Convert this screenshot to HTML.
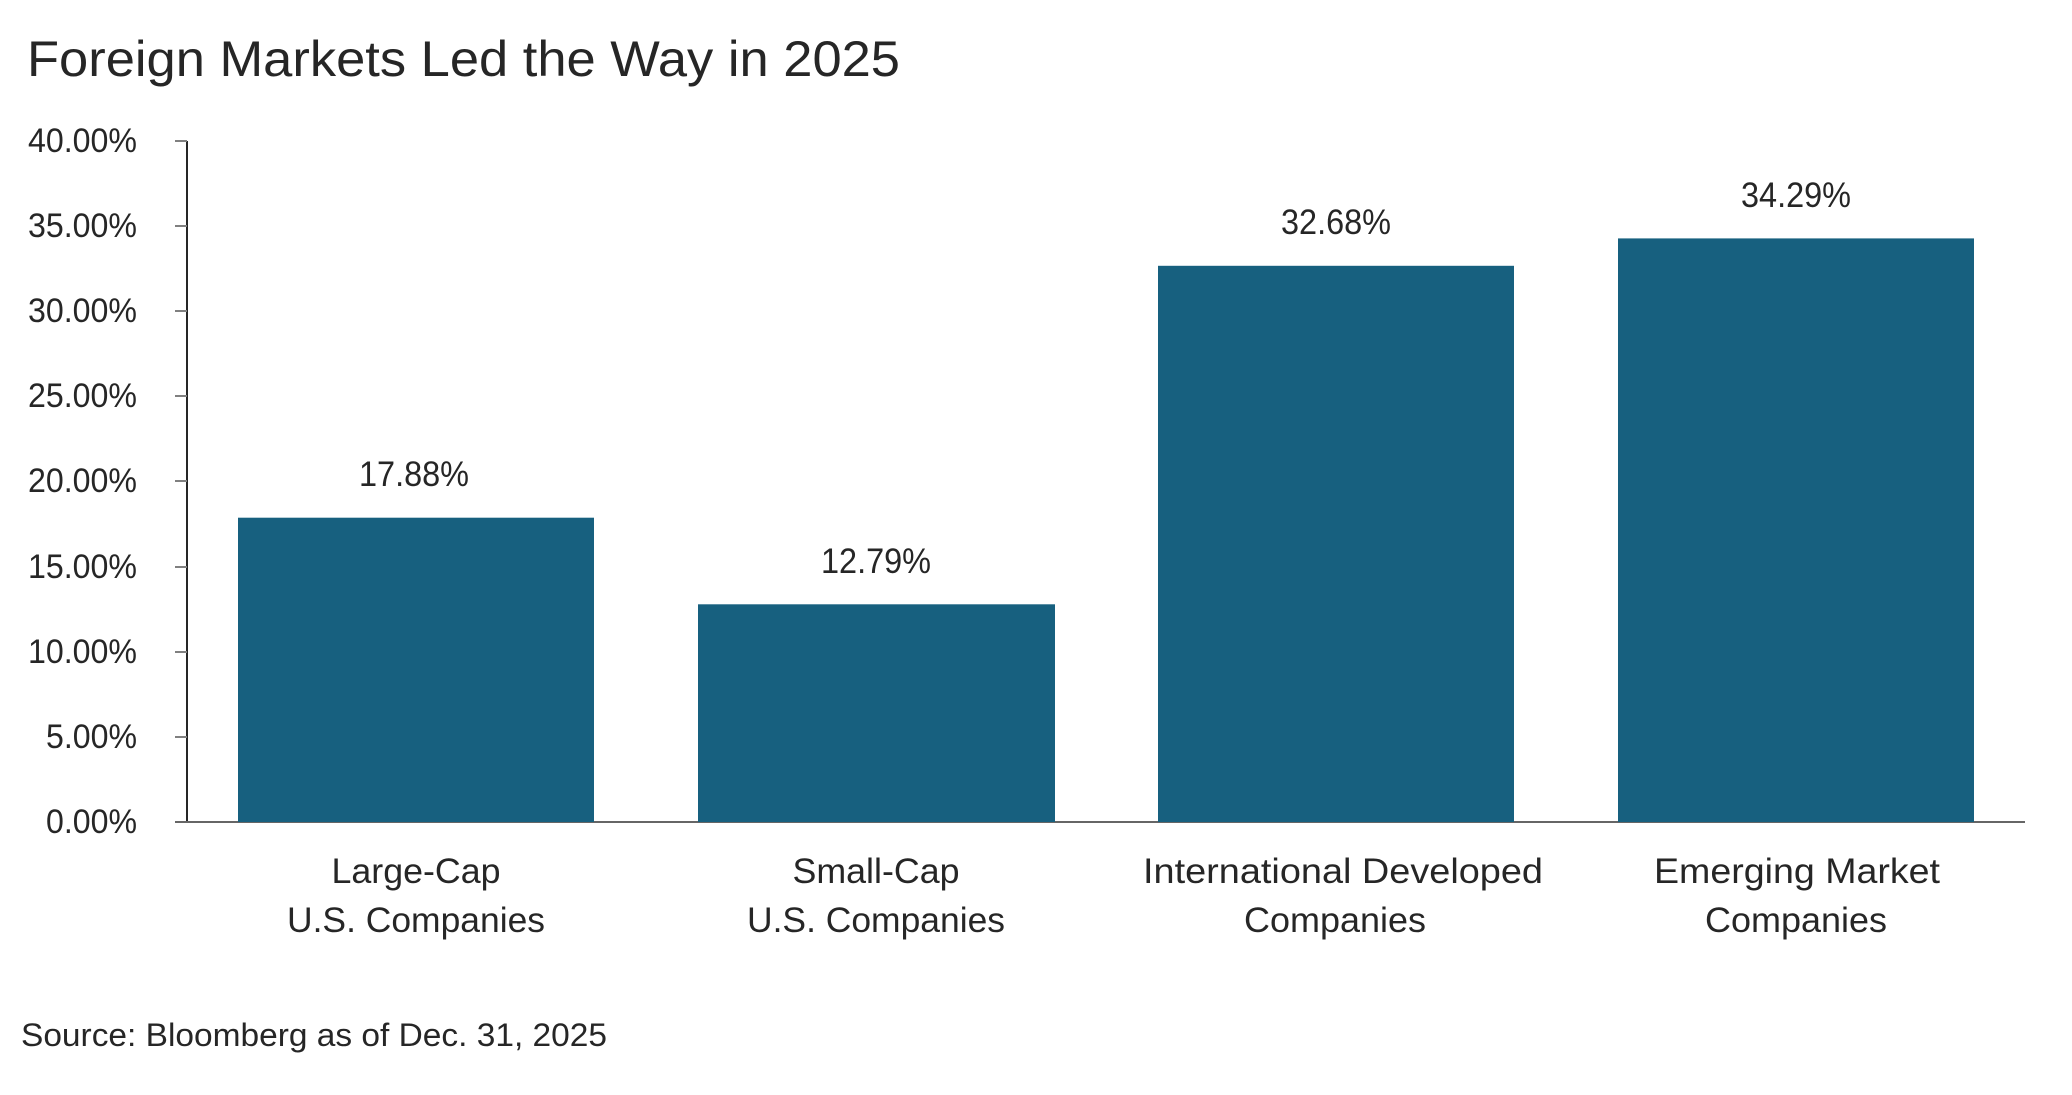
<!DOCTYPE html>
<html><head><meta charset="utf-8"><style>html,body{margin:0;padding:0;background:#fff}svg{display:block}</style></head>
<body>
<svg width="2072" height="1095" viewBox="0 0 2072 1095" xmlns="http://www.w3.org/2000/svg" font-family="Liberation Sans, sans-serif" fill="#262626">
<text x="27" y="76" font-size="50" textLength="873" lengthAdjust="spacingAndGlyphs">Foreign Markets Led the Way in 2025</text>
<g stroke="#262626" stroke-width="2">
<line x1="187" y1="141" x2="187" y2="822"/>
</g>
<g stroke="#808080" stroke-width="2">
<line x1="175" y1="141" x2="187" y2="141"/>
<line x1="175" y1="226" x2="187" y2="226"/>
<line x1="175" y1="311" x2="187" y2="311"/>
<line x1="175" y1="396" x2="187" y2="396"/>
<line x1="175" y1="481" x2="187" y2="481"/>
<line x1="175" y1="567" x2="187" y2="567"/>
<line x1="175" y1="652" x2="187" y2="652"/>
<line x1="175" y1="737" x2="187" y2="737"/>
<line x1="175" y1="822" x2="2025" y2="822" stroke="#666"/>
</g>
<g font-size="34" text-anchor="end">
<text x="137" y="152" textLength="109" lengthAdjust="spacingAndGlyphs">40.00%</text>
<text x="137" y="237" textLength="109" lengthAdjust="spacingAndGlyphs">35.00%</text>
<text x="137" y="322" textLength="109" lengthAdjust="spacingAndGlyphs">30.00%</text>
<text x="137" y="407" textLength="109" lengthAdjust="spacingAndGlyphs">25.00%</text>
<text x="137" y="492" textLength="109" lengthAdjust="spacingAndGlyphs">20.00%</text>
<text x="137" y="578" textLength="109" lengthAdjust="spacingAndGlyphs">15.00%</text>
<text x="137" y="663" textLength="109" lengthAdjust="spacingAndGlyphs">10.00%</text>
<text x="137" y="748" textLength="91" lengthAdjust="spacingAndGlyphs">5.00%</text>
<text x="137" y="833" textLength="91" lengthAdjust="spacingAndGlyphs">0.00%</text>
</g>
<g fill="#17607f">
<rect x="238" y="517.7" width="356" height="304.3"/>
<rect x="698" y="604.3" width="357" height="217.7"/>
<rect x="1158" y="265.8" width="356" height="556.2"/>
<rect x="1618" y="238.4" width="356" height="583.6"/>
</g>
<g font-size="35" text-anchor="middle">
<text x="414" y="486" textLength="110" lengthAdjust="spacingAndGlyphs">17.88%</text>
<text x="876" y="573" textLength="110" lengthAdjust="spacingAndGlyphs">12.79%</text>
<text x="1336" y="234" textLength="110" lengthAdjust="spacingAndGlyphs">32.68%</text>
<text x="1796" y="207" textLength="110" lengthAdjust="spacingAndGlyphs">34.29%</text>
</g>
<g font-size="35" text-anchor="middle">
<text x="416" y="883" textLength="169" lengthAdjust="spacingAndGlyphs">Large-Cap</text>
<text x="416" y="932" textLength="258" lengthAdjust="spacingAndGlyphs">U.S. Companies</text>
<text x="876" y="883" textLength="167" lengthAdjust="spacingAndGlyphs">Small-Cap</text>
<text x="876" y="932" textLength="258" lengthAdjust="spacingAndGlyphs">U.S. Companies</text>
<text x="1343" y="883" textLength="400" lengthAdjust="spacingAndGlyphs">International Developed</text>
<text x="1335" y="932" textLength="182" lengthAdjust="spacingAndGlyphs">Companies</text>
<text x="1797" y="883" textLength="286" lengthAdjust="spacingAndGlyphs">Emerging Market</text>
<text x="1796" y="932" textLength="182" lengthAdjust="spacingAndGlyphs">Companies</text>
</g>
<text x="21" y="1046" font-size="32" textLength="586" lengthAdjust="spacingAndGlyphs">Source: Bloomberg as of Dec. 31, 2025</text>
</svg>
</body></html>
